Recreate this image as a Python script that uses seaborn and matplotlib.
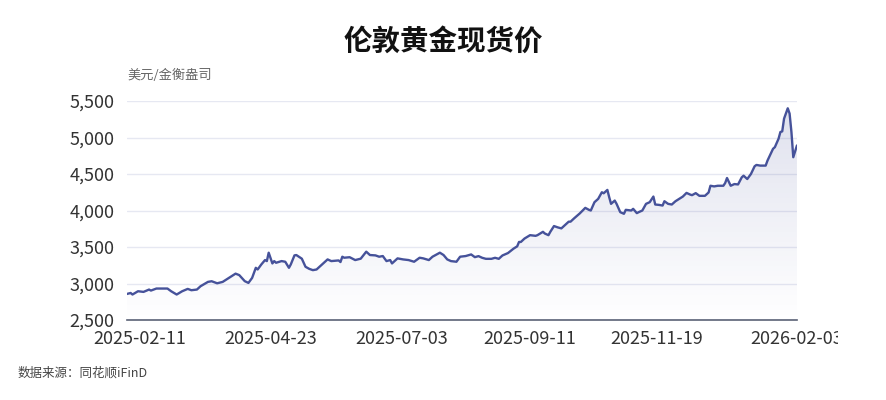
import numpy as np
import pandas as pd
import matplotlib
matplotlib.use('Agg')
import matplotlib.pyplot as plt
import matplotlib.dates as mdates
from matplotlib.ticker import FuncFormatter
from matplotlib.transforms import Bbox, TransformedBbox
import seaborn as sns

# London gold spot, USD per troy ounce
dates = [
    '2025-02-04', '2025-02-06', '2025-02-07', '2025-02-10', '2025-02-13', '2025-02-16', '2025-02-17', '2025-02-20', '2025-02-26', '2025-02-28',
    '2025-03-03', '2025-03-06', '2025-03-09', '2025-03-11', '2025-03-14', '2025-03-16', '2025-03-20', '2025-03-22', '2025-03-25', '2025-03-28',
    '2025-04-01', '2025-04-04', '2025-04-06', '2025-04-09', '2025-04-11', '2025-04-13', '2025-04-15', '2025-04-16', '2025-04-18', '2025-04-20',
    '2025-04-21', '2025-04-22', '2025-04-24', '2025-04-25', '2025-04-26', '2025-04-29', '2025-05-01', '2025-05-03', '2025-05-04', '2025-05-06',
    '2025-05-07', '2025-05-10', '2025-05-12', '2025-05-14', '2025-05-16', '2025-05-18', '2025-05-21', '2025-05-22', '2025-05-24', '2025-05-26',
    '2025-05-30', '2025-05-31', '2025-06-01', '2025-06-02', '2025-06-05', '2025-06-08', '2025-06-11', '2025-06-14', '2025-06-16', '2025-06-19',
    '2025-06-21', '2025-06-23', '2025-06-25', '2025-06-27', '2025-06-28', '2025-07-01', '2025-07-04', '2025-07-07', '2025-07-10', '2025-07-13',
    '2025-07-15', '2025-07-18', '2025-07-20', '2025-07-24', '2025-07-26', '2025-07-28', '2025-07-30', '2025-08-02', '2025-08-04', '2025-08-07',
    '2025-08-10', '2025-08-12', '2025-08-14', '2025-08-16', '2025-08-18', '2025-08-21', '2025-08-23', '2025-08-25', '2025-08-27', '2025-08-30',
    '2025-09-02', '2025-09-04', '2025-09-05', '2025-09-06', '2025-09-08', '2025-09-11', '2025-09-14', '2025-09-15', '2025-09-18', '2025-09-19',
    '2025-09-21', '2025-09-22', '2025-09-24', '2025-09-26', '2025-09-28', '2025-09-30', '2025-10-02', '2025-10-03', '2025-10-05', '2025-10-08',
    '2025-10-11', '2025-10-13', '2025-10-14', '2025-10-16', '2025-10-18', '2025-10-20', '2025-10-21', '2025-10-23', '2025-10-24', '2025-10-25',
    '2025-10-27', '2025-10-28', '2025-10-30', '2025-11-01', '2025-11-02', '2025-11-05', '2025-11-06', '2025-11-08', '2025-11-09', '2025-11-11',
    '2025-11-13', '2025-11-15', '2025-11-17', '2025-11-18', '2025-11-20', '2025-11-22', '2025-11-23', '2025-11-25', '2025-11-27', '2025-11-29',
    '2025-12-01', '2025-12-03', '2025-12-05', '2025-12-07', '2025-12-08', '2025-12-10', '2025-12-12', '2025-12-15', '2025-12-17', '2025-12-18',
    '2025-12-20', '2025-12-22', '2025-12-25', '2025-12-26', '2025-12-27', '2025-12-29', '2025-12-31', '2026-01-02', '2026-01-04', '2026-01-05',
    '2026-01-07', '2026-01-09', '2026-01-11', '2026-01-12', '2026-01-14', '2026-01-17', '2026-01-18', '2026-01-21', '2026-01-22', '2026-01-24',
    '2026-01-25', '2026-01-26', '2026-01-27', '2026-01-29', '2026-01-30', '2026-01-31', '2026-02-01', '2026-02-03',
]
prices = [
    2857, 2870, 2849, 2894, 2885, 2917, 2903, 2931, 2931, 2894,
    2849, 2894, 2926, 2908, 2917, 2963, 3022, 3031, 3003, 3022,
    3087, 3135, 3115, 3032, 3008, 3077, 3215, 3192, 3261, 3321,
    3307, 3422, 3275, 3307, 3284, 3307, 3298, 3215, 3261, 3385,
    3390, 3340, 3229, 3201, 3183, 3192, 3261, 3284, 3330, 3307,
    3316, 3294, 3367, 3353, 3360, 3321, 3340, 3436, 3390, 3385,
    3367, 3376, 3307, 3321, 3275, 3344, 3330, 3321, 3298, 3353,
    3344, 3321, 3367, 3422, 3390, 3330, 3307, 3298, 3367, 3376,
    3398, 3361, 3375, 3352, 3338, 3338, 3352, 3338, 3384, 3417,
    3477, 3509, 3569, 3569, 3616, 3662, 3653, 3662, 3708, 3685,
    3662, 3708, 3787, 3769, 3755, 3801, 3847, 3847, 3894, 3960,
    4036, 4009, 4000, 4114, 4159, 4250, 4236, 4282, 4182, 4091,
    4136, 4091, 3977, 3955, 4009, 4000, 4023, 3964, 3977, 4000,
    4091, 4114, 4191, 4082, 4077, 4068, 4127, 4091, 4082, 4127,
    4159, 4191, 4241, 4218, 4210, 4238, 4201, 4201, 4247, 4339,
    4330, 4339, 4339, 4376, 4445, 4339, 4362, 4357, 4454, 4477,
    4431, 4500, 4606, 4624, 4615, 4615, 4684, 4845, 4868, 4983,
    5075, 5084, 5259, 5400, 5328, 5075, 4730, 4891,
]
tick_dates = ['2025-02-11', '2025-04-23', '2025-07-03', '2025-09-11', '2025-11-19', '2026-02-03']
y_ticks = [2500, 3000, 3500, 4000, 4500, 5000, 5500]

df = pd.DataFrame({'date': pd.to_datetime(dates), 'price': prices})

sns.set_theme(style='white')
plt.rcParams['font.family'] = ['Noto Sans CJK SC', 'DejaVu Sans']

line_color = '#46529a'

fig = plt.figure(figsize=(8.86, 4.0), dpi=100)
ax = fig.add_axes([0.1433, 0.2, 0.7562, 0.5475])

sns.lineplot(data=df, x='date', y='price', ax=ax, color=line_color, linewidth=1.7)

# gradient area under the line
xnum = mdates.date2num(df['date'])
ymin, ymax = y_ticks[0], y_ticks[-1]
poly = ax.fill_between(xnum, df['price'], ymin, facecolor='none', edgecolor='none')
grad = np.zeros((256, 1, 4))
grad[:, 0, 0] = 0.27
grad[:, 0, 1] = 0.31
grad[:, 0, 2] = 0.60
grad[:, 0, 3] = np.linspace(0.17, 0.0, 256)
top = df['price'].max()
img = ax.imshow(grad, aspect='auto', extent=[xnum.min(), xnum.max(), ymin, top],
                origin='upper', zorder=1)
img.set_clip_path(poly.get_paths()[0], transform=ax.transData)

ax.set_xlim(xnum.min(), xnum.max())
ax.set_ylim(ymin, ymax)
ax.set_yticks(y_ticks)
ax.yaxis.set_major_formatter(FuncFormatter(lambda v, p: f'{int(v):,}'))
ax.set_xticks(mdates.date2num(pd.to_datetime(tick_dates)))
ax.set_xticklabels(tick_dates)

ax.grid(axis='y', color='#e6e8f2', linewidth=1)
ax.grid(axis='x', visible=False)
for s in ['top', 'right', 'left']:
    ax.spines[s].set_visible(False)
ax.spines['bottom'].set_color('#5b6276')
ax.spines['bottom'].set_linewidth(1.2)
ax.tick_params(axis='both', length=0, labelsize=13, colors='#333333')
ax.tick_params(axis='y', pad=9)
ax.tick_params(axis='x', pad=7)
ax.set_xlabel('')
ax.set_ylabel('')

# the last date label runs off the right edge in the reference
clip = Bbox([[0, 0], [838 / 886, 1]])
for lbl in ax.get_xticklabels():
    lbl.set_clip_box(TransformedBbox(clip, fig.transFigure))
    lbl.set_clip_on(True)

fig.text(0.5, 0.895, '伦敦黄金现货价', ha='center', va='center',
         fontsize=20.5, fontweight='bold', color='#111111')
fig.text(0.1433, 0.8125, '美元/金衡盎司', ha='left', va='center',
         fontsize=9.5, color='#666666')
fig.text(0.02, 0.0675, '数据来源：同花顺iFinD', ha='left', va='center',
         fontsize=9, color='#444444')

fig.savefig('out.png', dpi=100)
